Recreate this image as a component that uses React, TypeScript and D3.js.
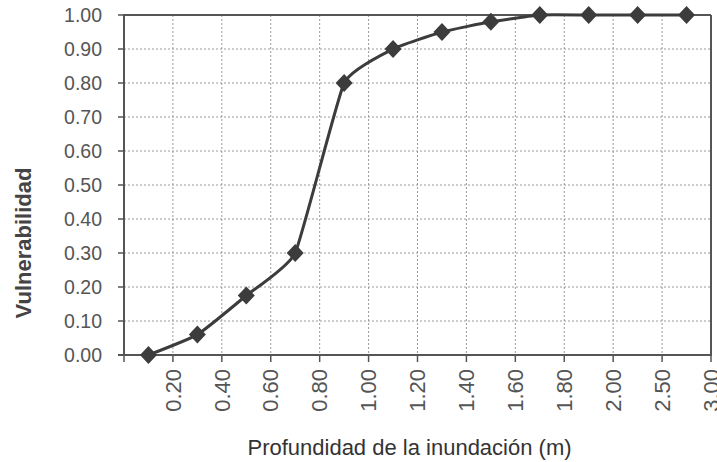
import { useMemo } from 'react';
import * as d3 from 'd3';

// Profundidad (categorías del eje X) y vulnerabilidad
const depthLabels = ['0.20', '0.40', '0.60', '0.80', '1.00', '1.20', '1.40', '1.60', '1.80', '2.00', '2.50', '3.00'];
const vulnerability = [0, 0.06, 0.175, 0.3, 0.8, 0.9, 0.95, 0.98, 1, 1, 1, 1];
const yTicks = [0, 0.1, 0.2, 0.3, 0.4, 0.5, 0.6, 0.7, 0.8, 0.9, 1.0];

const W = 717;
const H = 462;
const margin = { top: 15, right: 6, bottom: 107, left: 124 };
const FONT = '"Liberation Sans", Arial, sans-serif';

export default function App() {
  const x = useMemo(() => d3.scaleBand<string>()
    .domain(depthLabels)
    .range([margin.left, W - margin.right])
    .padding(0), []);

  const y = useMemo(() => d3.scaleLinear()
    .domain([0, 1])
    .range([H - margin.bottom, margin.top]), []);

  const bw = x.bandwidth();
  const points = depthLabels.map((d, i) => [x(d)! + bw / 2, y(vulnerability[i])] as [number, number]);

  // suavizado leve: casi recto entre puntos, esquinas redondeadas
  const line = d3.line<[number, number]>()
    .x(d => d[0])
    .y(d => d[1])
    .curve(d3.curveCardinal.tension(0.6));

  const left = margin.left;
  const right = W - margin.right;
  const top = margin.top;
  const bottom = H - margin.bottom;

  // límites de categorías (líneas verticales)
  const bounds = [left, ...depthLabels.map(d => x(d)! + bw)];

  return (
    <svg width={W} height={H} style={{ position: 'absolute', left: 0, top: 0, background: '#fff' }}>
      <rect x={0} y={0} width={W} height={H} fill="#fff" />

      {/* rejilla horizontal */}
      {yTicks.slice(1).map(t => (
        <line key={'h' + t} x1={left} x2={right} y1={y(t)} y2={y(t)}
          stroke="#9a9a9a" strokeWidth={1} strokeDasharray="2,2" />
      ))}
      {/* rejilla vertical */}
      {bounds.slice(1, -1).map((b, i) => (
        <line key={'v' + i} x1={b} x2={b} y1={top} y2={bottom}
          stroke="#9a9a9a" strokeWidth={1} strokeDasharray="2,2" />
      ))}

      {/* marco */}
      <line x1={left} x2={right} y1={top} y2={top} stroke="#555" strokeWidth={2} />
      <line x1={right} x2={right} y1={top} y2={bottom} stroke="#555" strokeWidth={2} />
      <line x1={left} x2={left} y1={top - 1} y2={bottom} stroke="#555" strokeWidth={2} />
      <line x1={left - 6} x2={right + 1} y1={bottom} y2={bottom} stroke="#555" strokeWidth={2} />

      {/* eje Y */}
      {yTicks.map(t => (
        <g key={'y' + t}>
          <line x1={left - 6} x2={left} y1={y(t)} y2={y(t)} stroke="#555" strokeWidth={1.5} />
          <text x={102} y={y(t)} dy="0.35em" textAnchor="end" fontFamily={FONT} fontSize={19.5} fill="#555">
            {t.toFixed(2)}
          </text>
        </g>
      ))}

      {/* eje X */}
      {bounds.map((b, i) => (
        <line key={'xt' + i} x1={b} x2={b} y1={bottom} y2={bottom + 7} stroke="#555" strokeWidth={1.5} />
      ))}
      {depthLabels.map(d => {
        const bx = x(d)! + bw;
        return (
          <text key={'xl' + d} transform={`translate(${bx},${bottom + 14}) rotate(-90)`}
            dy="0.35em" textAnchor="end" fontFamily={FONT} fontSize={22} fill="#555">
            {d}
          </text>
        );
      })}

      {/* serie */}
      <path d={line(points) ?? ''} fill="none" stroke="#3c3c3c" strokeWidth={3} />
      {points.map((p, i) => (
        <path key={'m' + i} transform={`translate(${p[0]},${p[1]})`}
          d="M0,-9L8.5,0L0,9L-8.5,0Z" fill="#3c3c3c" />
      ))}

      {/* títulos */}
      <text x={(left + right) / 2 - 8} y={455} textAnchor="middle" fontFamily={FONT} fontSize={22} fill="#333">
        Profundidad de la inundación (m)
      </text>
      <text transform={`translate(31,${243}) rotate(-90)`} textAnchor="middle" fontFamily={FONT}
        fontSize={22} fontWeight="bold" fill="#444">
        Vulnerabilidad
      </text>
    </svg>
  );
}
